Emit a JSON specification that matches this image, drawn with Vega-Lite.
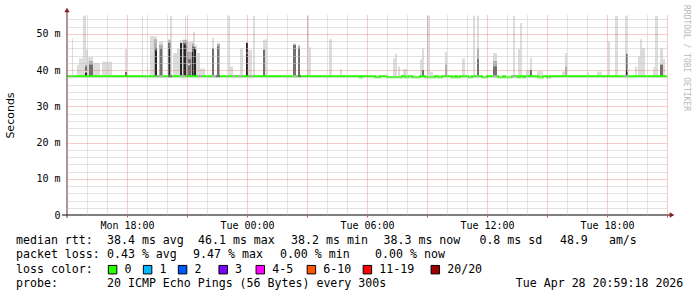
{
  "$schema": "https://vega.github.io/schema/vega-lite/v6.json",
  "width": 600,
  "height": 200,
  "autosize": {"type": "none"},
  "padding": {"left": 67, "top": 15, "right": 30, "bottom": 82},
  "background": "white",
  "config": {"view": {"stroke": null}, "font": "DejaVu Sans Mono"},
  "title": {"text": "RRDTOOL / TOBI OETIKER", "orient": "right", "anchor": "start", "frame": "group", "offset": -1, "dx": -10, "font": "DejaVu Sans Mono", "fontSize": 8, "fontWeight": "normal", "color": "#b8b8b8"},
  "datasets": {
    "smoke": [
      {"a":0.25,"b":0.30,"lo":38.3,"hi":48.8,"s":"L"},
      {"a":0.50,"b":0.80,"lo":38.3,"hi":41.4,"s":"L"},
      {"a":0.60,"b":0.80,"lo":38.3,"hi":43.2,"s":"L"},
      {"a":0.80,"b":0.95,"lo":38.3,"hi":55.0,"s":"L"},
      {"a":0.95,"b":1.05,"lo":38.3,"hi":45.6,"s":"L"},
      {"a":1.05,"b":1.30,"lo":38.3,"hi":43.6,"s":"L"},
      {"a":1.30,"b":1.65,"lo":38.3,"hi":42.0,"s":"L"},
      {"a":1.75,"b":2.25,"lo":38.3,"hi":42.3,"s":"L"},
      {"a":2.90,"b":3.00,"lo":38.3,"hi":45.8,"s":"L"},
      {"a":3.75,"b":3.80,"lo":38.3,"hi":55.0,"s":"L"},
      {"a":4.00,"b":4.05,"lo":38.3,"hi":41.0,"s":"L"},
      {"a":4.15,"b":4.35,"lo":38.3,"hi":49.4,"s":"L"},
      {"a":4.35,"b":4.50,"lo":38.3,"hi":49.3,"s":"L"},
      {"a":4.60,"b":4.80,"lo":38.3,"hi":47.9,"s":"L"},
      {"a":5.05,"b":5.15,"lo":38.3,"hi":48.5,"s":"L"},
      {"a":5.15,"b":5.25,"lo":38.3,"hi":55.0,"s":"L"},
      {"a":5.30,"b":5.50,"lo":38.3,"hi":44.7,"s":"L"},
      {"a":5.50,"b":5.65,"lo":38.3,"hi":46.0,"s":"L"},
      {"a":5.65,"b":5.80,"lo":38.3,"hi":48.3,"s":"L"},
      {"a":5.80,"b":5.90,"lo":38.3,"hi":48.5,"s":"L"},
      {"a":5.90,"b":5.95,"lo":38.3,"hi":55.0,"s":"L"},
      {"a":5.95,"b":6.00,"lo":38.3,"hi":48.5,"s":"L"},
      {"a":6.00,"b":6.25,"lo":38.3,"hi":47.9,"s":"L"},
      {"a":6.25,"b":6.30,"lo":38.3,"hi":48.0,"s":"L"},
      {"a":6.30,"b":6.40,"lo":38.3,"hi":50.6,"s":"L"},
      {"a":6.40,"b":6.50,"lo":38.3,"hi":47.0,"s":"L"},
      {"a":6.50,"b":6.65,"lo":38.3,"hi":44.7,"s":"L"},
      {"a":6.65,"b":6.90,"lo":38.3,"hi":40.4,"s":"L"},
      {"a":7.25,"b":7.35,"lo":38.3,"hi":48.9,"s":"L"},
      {"a":7.50,"b":7.65,"lo":38.3,"hi":47.5,"s":"L"},
      {"a":8.05,"b":8.15,"lo":38.3,"hi":55.0,"s":"L"},
      {"a":8.15,"b":8.30,"lo":38.3,"hi":41.0,"s":"L"},
      {"a":8.65,"b":8.80,"lo":38.3,"hi":46.0,"s":"L"},
      {"a":8.95,"b":9.05,"lo":38.3,"hi":48.0,"s":"L"},
      {"a":9.05,"b":9.25,"lo":38.3,"hi":45.6,"s":"L"},
      {"a":9.30,"b":9.40,"lo":38.3,"hi":55.0,"s":"L"},
      {"a":9.80,"b":9.90,"lo":38.3,"hi":48.3,"s":"L"},
      {"a":9.90,"b":10.00,"lo":38.3,"hi":48.5,"s":"L"},
      {"a":11.30,"b":11.45,"lo":38.3,"hi":47.3,"s":"L"},
      {"a":11.55,"b":11.65,"lo":38.3,"hi":47.0,"s":"L"},
      {"a":12.00,"b":12.10,"lo":38.3,"hi":55.0,"s":"L"},
      {"a":12.10,"b":12.20,"lo":38.3,"hi":46.3,"s":"L"},
      {"a":13.10,"b":13.25,"lo":38.3,"hi":48.5,"s":"L"},
      {"a":13.65,"b":13.75,"lo":38.3,"hi":40.3,"s":"L"},
      {"a":16.30,"b":16.50,"lo":38.3,"hi":43.2,"s":"L"},
      {"a":16.40,"b":16.50,"lo":38.3,"hi":44.5,"s":"L"},
      {"a":16.55,"b":16.65,"lo":38.3,"hi":41.0,"s":"L"},
      {"a":16.80,"b":17.00,"lo":38.3,"hi":40.3,"s":"L"},
      {"a":17.65,"b":17.85,"lo":38.3,"hi":43.0,"s":"L"},
      {"a":17.75,"b":17.85,"lo":38.3,"hi":46.0,"s":"L"},
      {"a":18.00,"b":18.15,"lo":38.3,"hi":55.0,"s":"L"},
      {"a":18.15,"b":18.30,"lo":38.3,"hi":39.5,"s":"L"},
      {"a":18.90,"b":19.00,"lo":38.3,"hi":45.0,"s":"L"},
      {"a":19.75,"b":19.90,"lo":38.3,"hi":43.2,"s":"L"},
      {"a":20.30,"b":20.40,"lo":38.3,"hi":55.0,"s":"L"},
      {"a":20.50,"b":20.60,"lo":38.3,"hi":55.0,"s":"L"},
      {"a":21.30,"b":21.50,"lo":38.3,"hi":44.7,"s":"L"},
      {"a":22.30,"b":22.40,"lo":38.3,"hi":55.0,"s":"L"},
      {"a":22.55,"b":22.65,"lo":38.3,"hi":45.8,"s":"L"},
      {"a":22.65,"b":22.75,"lo":38.3,"hi":53.0,"s":"L"},
      {"a":22.95,"b":23.15,"lo":38.3,"hi":40.0,"s":"L"},
      {"a":23.15,"b":23.25,"lo":38.3,"hi":43.5,"s":"L"},
      {"a":23.50,"b":23.80,"lo":38.3,"hi":39.7,"s":"L"},
      {"a":24.75,"b":24.90,"lo":38.3,"hi":39.6,"s":"L"},
      {"a":24.90,"b":25.00,"lo":38.3,"hi":44.7,"s":"L"},
      {"a":26.00,"b":26.10,"lo":38.3,"hi":39.4,"s":"L"},
      {"a":26.50,"b":26.75,"lo":38.3,"hi":39.6,"s":"L"},
      {"a":27.05,"b":27.15,"lo":38.3,"hi":47.9,"s":"L"},
      {"a":27.40,"b":27.55,"lo":38.3,"hi":55.0,"s":"L"},
      {"a":27.90,"b":28.00,"lo":38.3,"hi":55.0,"s":"L"},
      {"a":28.40,"b":28.50,"lo":38.3,"hi":41.0,"s":"L"},
      {"a":28.55,"b":28.75,"lo":38.3,"hi":43.8,"s":"L"},
      {"a":28.65,"b":28.75,"lo":38.3,"hi":48.5,"s":"L"},
      {"a":28.75,"b":28.90,"lo":38.3,"hi":46.0,"s":"L"},
      {"a":29.30,"b":29.40,"lo":38.3,"hi":40.8,"s":"L"},
      {"a":29.40,"b":29.55,"lo":38.3,"hi":55.0,"s":"L"},
      {"a":29.65,"b":29.80,"lo":38.3,"hi":46.0,"s":"L"},
      {"a":29.80,"b":29.90,"lo":38.3,"hi":43.0,"s":"L"},
      {"a":0.90,"b":1.00,"lo":38.3,"hi":41.5,"s":"M"},
      {"a":1.10,"b":1.30,"lo":38.3,"hi":42.5,"s":"M"},
      {"a":4.35,"b":4.50,"lo":38.3,"hi":48.5,"s":"M"},
      {"a":4.60,"b":4.80,"lo":38.3,"hi":47.0,"s":"M"},
      {"a":5.05,"b":5.20,"lo":38.3,"hi":48.2,"s":"M"},
      {"a":5.80,"b":6.00,"lo":38.3,"hi":48.3,"s":"M"},
      {"a":6.00,"b":6.25,"lo":38.3,"hi":45.0,"s":"M"},
      {"a":6.25,"b":6.35,"lo":38.3,"hi":47.3,"s":"M"},
      {"a":7.50,"b":7.65,"lo":38.3,"hi":47.2,"s":"M"},
      {"a":11.55,"b":11.65,"lo":38.3,"hi":46.7,"s":"M"},
      {"a":18.90,"b":19.00,"lo":38.3,"hi":41.5,"s":"M"},
      {"a":20.50,"b":20.60,"lo":38.3,"hi":46.0,"s":"M"},
      {"a":21.30,"b":21.50,"lo":38.3,"hi":42.5,"s":"M"},
      {"a":24.90,"b":25.00,"lo":38.3,"hi":41.0,"s":"M"},
      {"a":0.90,"b":1.00,"lo":38.3,"hi":41.0,"s":"D"},
      {"a":1.10,"b":1.30,"lo":38.3,"hi":41.5,"s":"D"},
      {"a":2.90,"b":3.00,"lo":38.3,"hi":39.5,"s":"D"},
      {"a":4.65,"b":4.75,"lo":38.3,"hi":46.0,"s":"D"},
      {"a":5.05,"b":5.15,"lo":38.3,"hi":47.5,"s":"D"},
      {"a":5.80,"b":5.95,"lo":38.3,"hi":47.5,"s":"D"},
      {"a":6.05,"b":6.20,"lo":38.3,"hi":43.0,"s":"D"},
      {"a":6.25,"b":6.35,"lo":38.3,"hi":46.5,"s":"D"},
      {"a":7.25,"b":7.35,"lo":38.3,"hi":46.0,"s":"D"},
      {"a":7.50,"b":7.60,"lo":38.3,"hi":46.5,"s":"D"},
      {"a":9.80,"b":9.90,"lo":38.3,"hi":45.6,"s":"D"},
      {"a":11.30,"b":11.45,"lo":38.3,"hi":47.0,"s":"D"},
      {"a":11.55,"b":11.65,"lo":38.3,"hi":46.0,"s":"D"},
      {"a":17.75,"b":17.85,"lo":38.3,"hi":40.0,"s":"D"},
      {"a":20.50,"b":20.60,"lo":38.3,"hi":43.0,"s":"D"},
      {"a":21.30,"b":21.50,"lo":38.3,"hi":41.0,"s":"D"},
      {"a":23.15,"b":23.25,"lo":38.3,"hi":40.0,"s":"D"},
      {"a":27.95,"b":28.05,"lo":38.3,"hi":44.5,"s":"D"},
      {"a":29.65,"b":29.80,"lo":38.3,"hi":41.5,"s":"D"},
      {"a":0.90,"b":1.00,"lo":38.3,"hi":40.0,"s":"K"},
      {"a":4.40,"b":4.50,"lo":38.3,"hi":46.0,"s":"K"},
      {"a":5.10,"b":5.15,"lo":38.3,"hi":46.0,"s":"K"},
      {"a":5.65,"b":5.75,"lo":38.3,"hi":47.5,"s":"K"},
      {"a":5.85,"b":5.95,"lo":38.3,"hi":47.0,"s":"K"},
      {"a":6.25,"b":6.30,"lo":38.3,"hi":45.0,"s":"K"},
      {"a":6.35,"b":6.45,"lo":38.3,"hi":46.3,"s":"K"},
      {"a":8.95,"b":9.05,"lo":38.3,"hi":47.5,"s":"K"},
      {"a":27.95,"b":28.05,"lo":38.3,"hi":40.0,"s":"K"}
    ],
    "med": [
      {"t":0,"v":38.3},{"t":14.65,"v":38.0},{"t":14.75,"v":38.3},{"t":15.4,"v":38.0},{"t":15.65,"v":38.3},
      {"t":16.0,"v":38.0},{"t":16.75,"v":38.3},{"t":16.9,"v":38.0},{"t":17.05,"v":38.3},{"t":17.25,"v":38.0},
      {"t":17.65,"v":38.3},{"t":17.9,"v":38.0},{"t":18.4,"v":38.3},{"t":18.55,"v":38.0},{"t":18.75,"v":38.3},
      {"t":19.25,"v":38.0},{"t":19.4,"v":38.3},{"t":19.5,"v":38.0},{"t":19.65,"v":38.3},{"t":20.05,"v":38.0},
      {"t":20.25,"v":38.3},{"t":20.75,"v":38.0},{"t":21.0,"v":38.3},{"t":21.55,"v":38.0},{"t":21.8,"v":38.3},
      {"t":21.9,"v":38.0},{"t":22.25,"v":38.3},{"t":22.55,"v":38.0},{"t":22.65,"v":38.3},{"t":22.8,"v":38.0},
      {"t":22.9,"v":38.3},{"t":23.55,"v":38.0},{"t":23.8,"v":38.3},{"t":24.0,"v":38.0},{"t":24.15,"v":38.3},
      {"t":30,"v":38.3}
    ],
    "loss": [
      {"a":0.20,"b":0.30,"v":38.3,"lc":"1"},
      {"a":4.25,"b":4.30,"v":38.3,"lc":"1"},
      {"a":4.50,"b":4.80,"v":38.3,"lc":"1"},
      {"a":5.05,"b":5.25,"v":38.3,"lc":"2"},
      {"a":5.65,"b":5.90,"v":38.3,"lc":"1"},
      {"a":6.55,"b":6.75,"v":38.3,"lc":"1"},
      {"a":7.25,"b":7.45,"v":38.3,"lc":"1"},
      {"a":7.45,"b":7.65,"v":38.3,"lc":"2"},
      {"a":8.25,"b":8.40,"v":38.3,"lc":"1"},
      {"a":8.55,"b":8.75,"v":38.3,"lc":"1"},
      {"a":9.15,"b":9.30,"v":38.3,"lc":"1"},
      {"a":11.30,"b":11.50,"v":38.3,"lc":"1"},
      {"a":11.55,"b":11.70,"v":38.3,"lc":"2"},
      {"a":20.50,"b":20.60,"v":38.3,"lc":"1"},
      {"a":21.30,"b":21.50,"v":38.3,"lc":"1"},
      {"a":22.25,"b":22.40,"v":38.3,"lc":"1"},
      {"a":27.80,"b":28.00,"v":38.3,"lc":"1"},
      {"a":0.90,"b":1.00,"v":39.6,"lc":"0"},
      {"a":4.40,"b":4.50,"v":45.6,"lc":"2"},
      {"a":5.90,"b":6.00,"v":46.0,"lc":"2"},
      {"a":6.05,"b":6.15,"v":41.6,"lc":"0"},
      {"a":6.40,"b":6.50,"v":46.0,"lc":"0"},
      {"a":8.95,"b":9.05,"v":44.7,"lc":"2"},
      {"a":28.00,"b":28.10,"v":39.8,"lc":"0"}
    ],
    "leg": [
      {"row":0,"col":0,"txt":"median rtt:"},
      {"row":0,"col":13,"txt":"38.4 ms avg"},
      {"row":0,"col":26,"txt":"46.1 ms max"},
      {"row":0,"col":39.3,"txt":"38.2 ms min"},
      {"row":0,"col":52.5,"txt":"38.3 ms now"},
      {"row":0,"col":66.2,"txt":"0.8 ms sd"},
      {"row":0,"col":77.7,"txt":"48.9"},
      {"row":0,"col":84.7,"txt":"am/s"},
      {"row":1,"col":0,"txt":"packet loss:"},
      {"row":1,"col":13,"txt":"0.43 % avg"},
      {"row":1,"col":25.3,"txt":"9.47 % max"},
      {"row":1,"col":37.7,"txt":"0.00 % min"},
      {"row":1,"col":51.3,"txt":"0.00 % now"},
      {"row":2,"col":0,"txt":"loss color:"},
      {"row":2,"col":15.5,"txt":"0"},
      {"row":2,"col":20.5,"txt":"1"},
      {"row":2,"col":25.5,"txt":"2"},
      {"row":2,"col":31.3,"txt":"3"},
      {"row":2,"col":36.6,"txt":"4-5"},
      {"row":2,"col":43.9,"txt":"6-10"},
      {"row":2,"col":51.9,"txt":"11-19"},
      {"row":2,"col":61.6,"txt":"20/20"},
      {"row":3,"col":0,"txt":"probe:"},
      {"row":3,"col":13,"txt":"20 ICMP Echo Pings (56 Bytes) every 300s"},
      {"row":3,"col":71.4,"txt":"Tue Apr 28 20:59:18 2026"}
    ],
    "box": [
      {"row":2,"col":13.8,"lc":"0"},
      {"row":2,"col":18.8,"lc":"1"},
      {"row":2,"col":23.8,"lc":"2"},
      {"row":2,"col":29.6,"lc":"3"},
      {"row":2,"col":34.9,"lc":"4-5"},
      {"row":2,"col":42.2,"lc":"6-10"},
      {"row":2,"col":50.2,"lc":"11-19"},
      {"row":2,"col":59.9,"lc":"20/20"}
    ]
  },
  "layer": [
    {
      "layer": [
        {
          "data": {"name": "smoke"},
          "mark": {"type": "rect"},
          "encoding": {
            "x": {"field": "a", "type": "quantitative", "scale": {"domain": [0, 30], "nice": false, "zero": false},
              "axis": {"orient": "bottom", "values": [1,2,4,5,7,8,10,11,13,14,16,17,19,20,22,23,25,26,28,29], "grid": true, "gridColor": "#c4c4c4", "gridDash": [1,1], "labels": false, "ticks": false, "domain": false, "title": null, "zindex": 1}},
            "x2": {"field": "b"},
            "y": {"field": "lo", "type": "quantitative", "scale": {"domain": [0, 55.2], "nice": false},
              "axis": {"orient": "left", "values": [2,4,6,8,12,14,16,18,22,24,26,28,32,34,36,38,42,44,46,48,52,54], "grid": true, "gridColor": "#c4c4c4", "gridDash": [1,1], "labels": false, "ticks": false, "domain": false, "title": null, "zindex": 1}},
            "y2": {"field": "hi"},
            "color": {"field": "s", "type": "nominal", "scale": {"domain": ["L","M","D","K"], "range": ["#dcdcdc","#b0b0b0","#707070","#262626"]}, "legend": null}
          }
        },
        {
          "data": {"name": "med"},
          "mark": {"type": "line", "interpolate": "step-after", "color": "#26ff00", "strokeWidth": 2},
          "encoding": {
            "x": {"field": "t", "type": "quantitative",
              "axis": {"orient": "bottom", "values": [3,6,9,12,15,18,21,24,27,30], "grid": true, "gridColor": "#de5151", "gridOpacity": 0.6, "gridDash": [1,1], "labels": false, "ticks": true, "tickSize": 2, "tickColor": "#de5151", "domain": false, "title": null, "zindex": 1}},
            "y": {"field": "v", "type": "quantitative",
              "axis": {"orient": "left", "values": [10,20,30,40,50], "grid": true, "gridColor": "#de5151", "gridOpacity": 0.6, "gridDash": [1,1], "labels": false, "ticks": false, "domain": false, "title": null, "zindex": 1}}
          }
        },
        {
          "data": {"name": "loss"},
          "mark": {"type": "rule", "strokeWidth": 2},
          "encoding": {
            "x": {"field": "a", "type": "quantitative", "axis": null},
            "x2": {"field": "b"},
            "y": {"field": "v", "type": "quantitative", "axis": null},
            "color": {"field": "lc", "type": "nominal", "scale": {"domain": ["0","1","2","3","4-5","6-10","11-19","20/20"], "range": ["#26ff00","#00b8ff","#0059ff","#7e00ff","#ff00ff","#ff5500","#ff0000","#a00000"]}, "legend": null}
          }
        },
        {
          "data": {"values": [{"a": -0.25, "b": 30.25, "v": 0}]},
          "mark": {"type": "rule", "color": "#000000", "strokeWidth": 1},
          "encoding": {
            "x": {"field": "a", "type": "quantitative",
              "axis": {"orient": "bottom", "values": [3,9,15,21,27], "labelExpr": "['Mon 18:00','Tue 00:00','Tue 06:00','Tue 12:00','Tue 18:00'][(datum.value-3)/6]", "labelFont": "DejaVu Sans Mono", "labelFontSize": 10, "labelColor": "#000000", "labelPadding": 5, "ticks": false, "grid": false, "domain": false, "title": null}},
            "x2": {"field": "b"},
            "y": {"field": "v", "type": "quantitative",
              "axis": {"orient": "left", "values": [0,10,20,30,40,50], "labelExpr": "datum.value == 0 ? '0\u00a0\u00a0' : datum.value + ' m'", "labelFont": "DejaVu Sans Mono", "labelFontSize": 10, "labelColor": "#000000", "labelPadding": 7, "ticks": false, "grid": false, "domain": false, "title": "Seconds", "titleFont": "DejaVu Sans", "titleFontSize": 11, "titleFontWeight": "normal", "titleColor": "#000000", "titlePadding": 20}}
          }
        },
        {
          "data": {"values": [{"a": 0, "lo": -0.8, "hi": 56.6}]},
          "mark": {"type": "rule", "color": "#5a2a2a", "strokeWidth": 1},
          "encoding": {
            "x": {"field": "a", "type": "quantitative", "axis": null},
            "y": {"field": "lo", "type": "quantitative", "axis": null},
            "y2": {"field": "hi"}
          }
        },
        {
          "data": {"values": [{"a": 30.25, "v": 0, "k": "right"}, {"a": 0, "v": 56.6, "k": "up"}]},
          "mark": {"type": "point", "filled": true, "size": 28, "color": "#8b1a1a", "opacity": 1},
          "encoding": {
            "x": {"field": "a", "type": "quantitative", "axis": null},
            "y": {"field": "v", "type": "quantitative", "axis": null},
            "shape": {"field": "k", "type": "nominal", "scale": {"domain": ["right", "up"], "range": ["triangle-right", "triangle-up"]}, "legend": null}
          }
        }
      ],
      "resolve": {"axis": {"x": "independent", "y": "independent"}}
    },
    {
      "layer": [
        {
          "data": {"name": "leg"},
          "mark": {"type": "text", "align": "left", "baseline": "middle", "font": "DejaVu Sans Mono", "fontSize": 11.6, "color": "#000000"},
          "encoding": {
            "x": {"field": "col", "type": "quantitative", "scale": {"domain": [0, 100], "range": [-51, 649]}, "axis": null},
            "y": {"field": "row", "type": "quantitative", "scale": {"domain": [0, 3], "range": [226, 269]}, "axis": null},
            "text": {"field": "txt"}
          }
        },
        {
          "data": {"name": "box"},
          "mark": {"type": "point", "shape": "square", "filled": true, "size": 72, "stroke": "#000000", "strokeWidth": 1, "opacity": 1},
          "encoding": {
            "x": {"field": "col", "type": "quantitative", "axis": null},
            "y": {"field": "row", "type": "quantitative", "axis": null},
            "fill": {"field": "lc", "type": "nominal", "scale": {"domain": ["0","1","2","3","4-5","6-10","11-19","20/20"], "range": ["#26ff00","#00b8ff","#0059ff","#7e00ff","#ff00ff","#ff5500","#ff0000","#a00000"]}, "legend": null}
          }
        }
      ]
    }
  ],
  "resolve": {"scale": {"x": "independent", "y": "independent", "color": "independent", "fill": "independent", "shape": "independent"}}
}
